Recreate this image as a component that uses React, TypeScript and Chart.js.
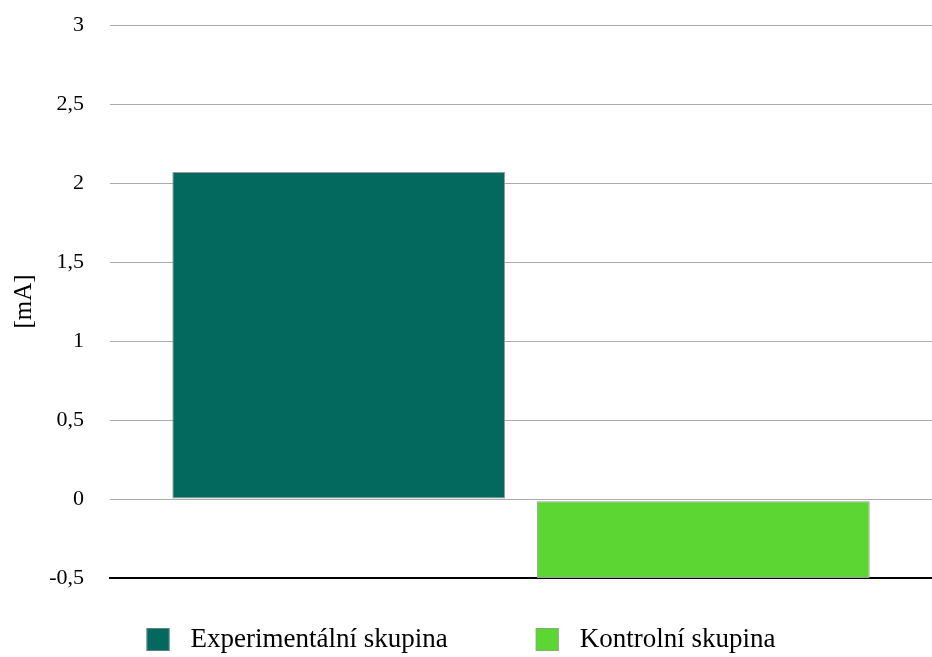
import React, { useEffect, useRef } from "react";
import { Chart, registerables } from "chart.js";

Chart.register(...registerables);

const categories = [""];
const seriesLabels = ["Experimentální skupina", "Kontrolní skupina"];
const experimentalValues = [2.07];
const controlStart = [-0.015];
const controlEnd = [-0.5];
const yTickValues = [-0.5, 0, 0.5, 1, 1.5, 2, 2.5, 3];
const yAxisTitle = "[mA]";
const seriesColors = ["#03695F", "#5CD632"];

const FONT = '"Liberation Serif", "Times New Roman", serif';

const legendPlugin = {
  id: "customBottomLegend",
  afterDraw(chart: any) {
    const ctx = chart.ctx;
    const box = 23;
    const gapText = 21;
    const itemGap = 88;
    ctx.save();
    ctx.font = `27px ${FONT}`;
    const items = chart.data.datasets.map((d: any) => ({
      label: d.label,
      color: d.backgroundColor,
      w: ctx.measureText(d.label).width,
    }));
    let total = 0;
    items.forEach((it: any, i: number) => {
      total += box + gapText + it.w + (i < items.length - 1 ? itemGap : 0);
    });
    let x = chart.width / 2 - 5 - total / 2;
    const boxTop = 628;
    const cy = 640;
    items.forEach((it: any) => {
      ctx.fillStyle = it.color;
      ctx.fillRect(x, boxTop, box, box);
      ctx.strokeStyle = "rgba(150,150,150,0.6)";
      ctx.lineWidth = 1;
      ctx.strokeRect(x + 0.5, boxTop + 0.5, box - 1, box - 1);
      ctx.fillStyle = "#000";
      ctx.textBaseline = "middle";
      ctx.textAlign = "left";
      ctx.fillText(it.label, x + box + gapText, cy);
      x += box + gapText + it.w + itemGap;
    });
    ctx.restore();
  },
};

export default function App() {
  const ref = useRef<HTMLCanvasElement | null>(null);
  useEffect(() => {
    if (!ref.current) return;
    const chart = new Chart(ref.current, {
      type: "bar",
      data: {
        labels: categories,
        datasets: [
          {
            label: seriesLabels[0],
            data: experimentalValues,
            backgroundColor: seriesColors[0],
            borderColor: "#9a9a9a",
            borderWidth: 1,
            borderSkipped: false,
          },
          {
            label: seriesLabels[1],
            data: controlStart.map((s, i) => [s, controlEnd[i]]) as any,
            backgroundColor: seriesColors[1],
            borderColor: "#9a9a9a",
            borderWidth: 1,
            borderSkipped: false,
          },
        ],
      },
      options: {
        responsive: false,
        animation: false,
        categoryPercentage: 0.887,
        barPercentage: 0.913,
        layout: { padding: { top: 25, bottom: 79, left: 0, right: 0 } },
        plugins: {
          legend: { display: false },
          tooltip: { enabled: false },
        },
        scales: {
          x: {
            grid: { display: false, drawTicks: false },
            ticks: { display: false },
            border: { display: true, color: "#000", width: 2 },
            afterFit: (s: any) => {
              s.height = 0;
            },
          },
          y: {
            min: -0.5,
            max: 3,
            afterBuildTicks: (s: any) => {
              s.ticks = yTickValues.map((v) => ({ value: v }));
            },
            grid: { color: "#ababab", lineWidth: 1, drawTicks: false },
            border: { display: false },
            ticks: {
              padding: 26,
              color: "#000",
              font: { family: FONT, size: 22 },
              callback: (v: any) => String(v).replace(".", ","),
            },
            title: {
              display: true,
              text: yAxisTitle,
              color: "#000",
              font: { family: FONT, size: 25 },
              padding: { top: 9, bottom: 0 },
            },
            afterFit: (s: any) => {
              s.width = 110;
              s.paddingTop = 0;
              s.paddingBottom = 0;
            },
          },
        },
      },
      plugins: [legendPlugin],
    });
    return () => chart.destroy();
  }, []);
  return (
    <div style={{ position: "absolute", left: 0, top: 0, width: 932, height: 657, background: "#fff" }}>
      <canvas ref={ref} width={932} height={657} />
    </div>
  );
}
